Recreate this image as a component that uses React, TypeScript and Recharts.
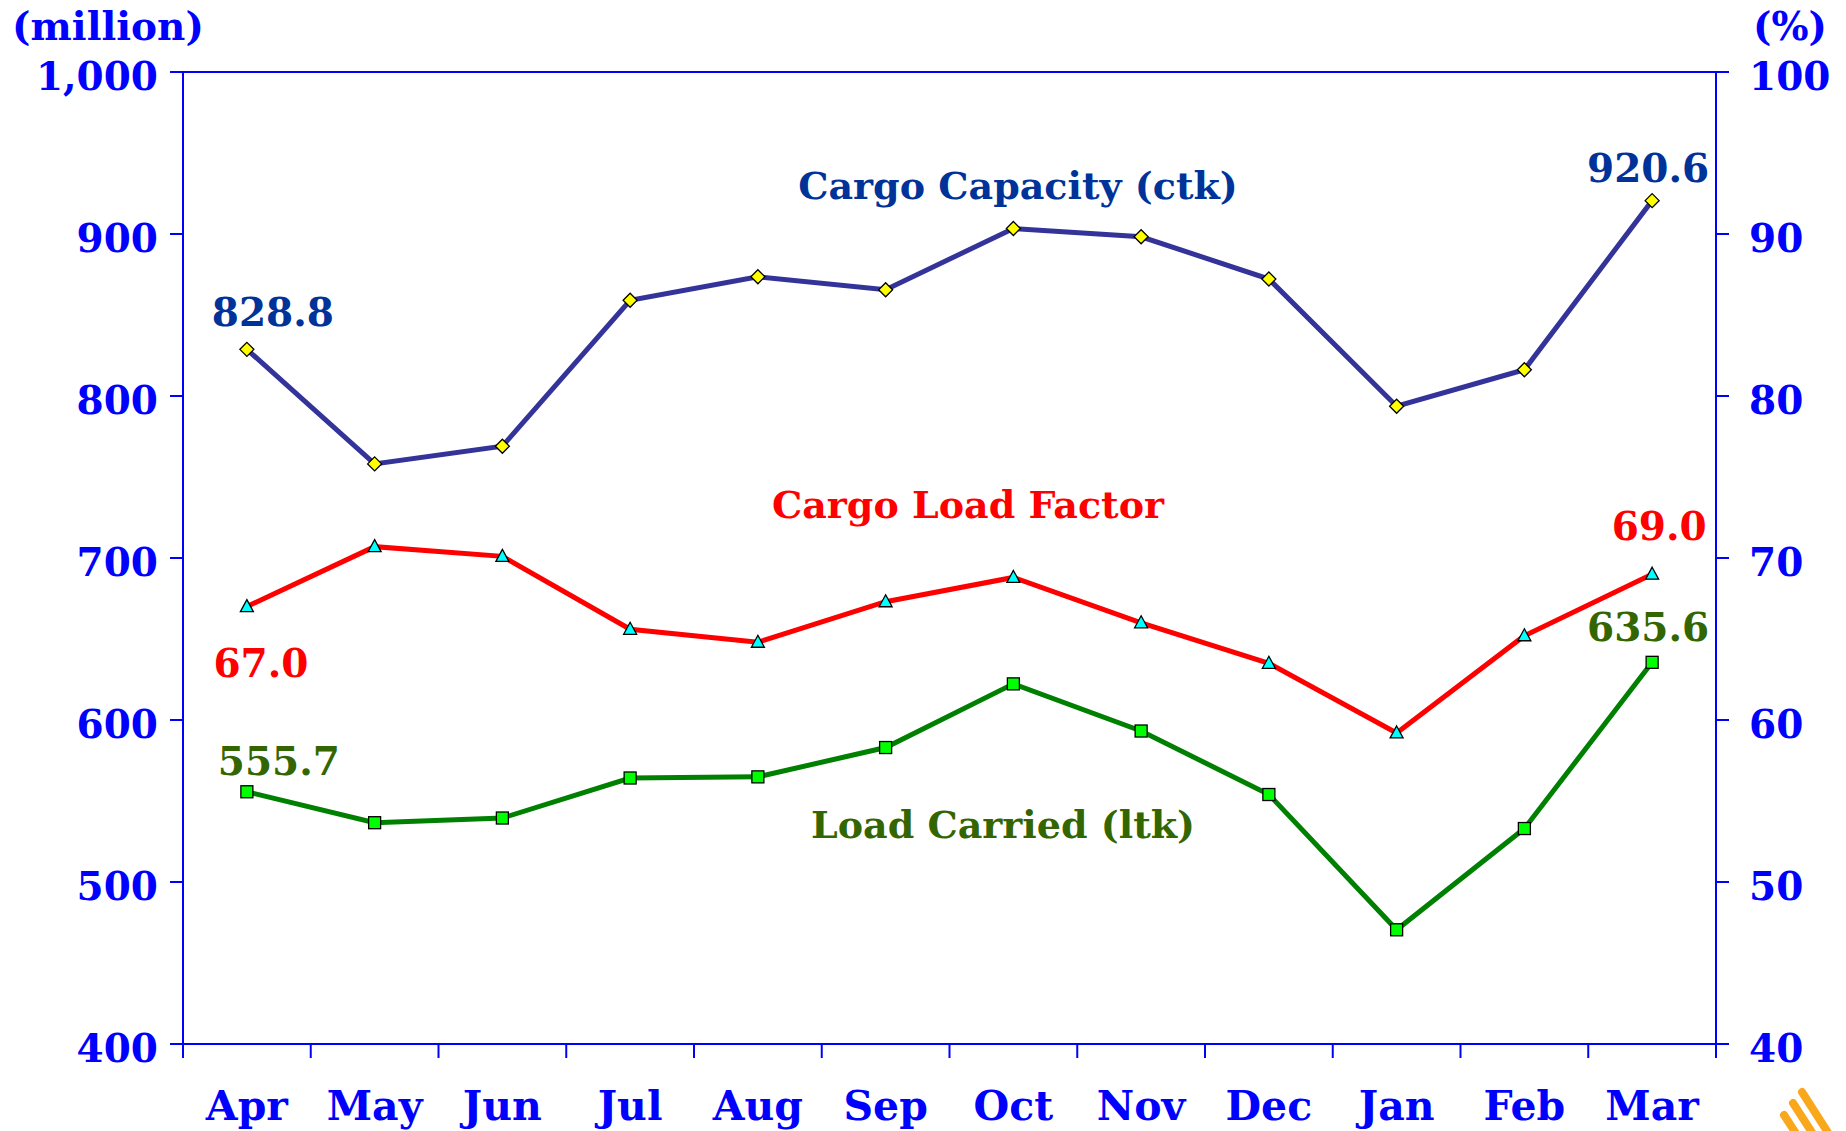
import React from 'react';
import { LineChart, Line, XAxis, YAxis, ReferenceLine } from 'recharts';

const months = ['Apr', 'May', 'Jun', 'Jul', 'Aug', 'Sep', 'Oct', 'Nov', 'Dec', 'Jan', 'Feb', 'Mar'];
const cargoCapacity = [828.8, 758.1, 769.0, 859.1, 873.6, 865.6, 903.4, 898.3, 872.2, 793.7, 816.2, 920.6];
const loadCarried = [555.7, 536.6, 539.5, 564.2, 564.9, 583.0, 622.3, 593.2, 554.0, 470.5, 533.0, 635.6];
const loadFactor = [67.0, 70.7, 70.1, 65.6, 64.8, 67.3, 68.8, 66.0, 63.5, 59.2, 65.2, 69.0];

const leftTicks = [400, 500, 600, 700, 800, 900, 1000];
const rightTicks = [40, 50, 60, 70, 80, 90, 100];

const data = months.map((m, i) => ({
  month: m,
  capacity: cargoCapacity[i],
  carried: loadCarried[i],
  factor: loadFactor[i],
}));

const FONT = '"DejaVu Serif", serif';
const AXIS_BLUE = '#0000FF';
const last = months.length - 1;

// layout
const W = 1846;
const H = 1131;
const MARGIN = { top: 72, right: 20, bottom: 6, left: 33 };
const LEFT_AXIS_W = 150;
const RIGHT_AXIS_W = 110;
const PLOT_W = W - MARGIN.left - MARGIN.right - LEFT_AXIS_W - RIGHT_AXIS_W;
const BAND = PLOT_W / months.length;
const X_LABEL_GAP = 47;

const valueText = (x: number, y: number, text: string, color: string) => (
  <text
    x={x}
    y={y}
    textAnchor="middle"
    dominantBaseline="central"
    fill={color}
    fontFamily={FONT}
    fontWeight="bold"
    fontSize={39}
  >
    {text}
  </text>
);

const DiamondDot = (props: any) => {
  const { cx, cy, index, value } = props;
  const r = 7;
  return (
    <g key={`d-${index}`}>
      <polygon
        points={`${cx},${cy - r} ${cx + r},${cy} ${cx},${cy + r} ${cx - r},${cy}`}
        fill="#FFFF00"
        stroke="#000"
        strokeWidth={1.3}
      />
      {index === 0 && valueText(cx + 26, cy - 37, value.toFixed(1), '#003399')}
      {index === last && valueText(cx - 4, cy - 33, value.toFixed(1), '#003399')}
    </g>
  );
};

const TriangleDot = (props: any) => {
  const { cx, cy, index, value } = props;
  return (
    <g key={`t-${index}`}>
      <polygon
        points={`${cx},${cy - 7} ${cx + 6.5},${cy + 5} ${cx - 6.5},${cy + 5}`}
        fill="#00FFFF"
        stroke="#000"
        strokeWidth={1.3}
      />
      {index === 0 && valueText(cx + 14, cy + 56, value.toFixed(1), '#FF0000')}
      {index === last && valueText(cx + 7, cy - 48, value.toFixed(1), '#FF0000')}
    </g>
  );
};

const SquareDot = (props: any) => {
  const { cx, cy, index, value } = props;
  return (
    <g key={`s-${index}`}>
      <rect x={cx - 6} y={cy - 6} width={12} height={12} fill="#00FF00" stroke="#000" strokeWidth={1.3} />
      {index === 0 && valueText(cx + 32, cy - 31, value.toFixed(1), '#336600')}
      {index === last && valueText(cx - 4, cy - 35, value.toFixed(1), '#336600')}
    </g>
  );
};

// month label plus the tick marks that sit between the months
const MonthTick = (props: any) => {
  const { x, y, payload, index } = props;
  const axisY = y - X_LABEL_GAP;
  const edge = (ex: number) => (
    <line x1={ex} y1={axisY} x2={ex} y2={axisY + 14} stroke={AXIS_BLUE} strokeWidth={2} />
  );
  return (
    <g>
      {edge(x - BAND / 2)}
      {index === last && edge(x + BAND / 2)}
      <text
        x={x}
        y={y}
        dy="0.71em"
        textAnchor="middle"
        fill={AXIS_BLUE}
        fontFamily={FONT}
        fontWeight="bold"
        fontSize={41}
      >
        {payload.value}
      </text>
    </g>
  );
};

const tickStyle = { fill: AXIS_BLUE, fontFamily: FONT, fontWeight: 'bold', fontSize: 39 };

export default function App() {
  return (
    <div style={{ position: 'absolute', left: 0, top: 0, width: W, height: H, background: '#fff' }}>
      <LineChart width={W} height={H} data={data} margin={MARGIN}>
        <XAxis
          dataKey="month"
          height={81}
          padding={{ left: BAND / 2, right: BAND / 2 }}
          axisLine={{ stroke: AXIS_BLUE, strokeWidth: 2 }}
          tickLine={false}
          tickSize={0}
          tickMargin={X_LABEL_GAP}
          interval={0}
          tick={MonthTick}
        />
        <YAxis
          yAxisId="left"
          domain={[400, 1000]}
          ticks={leftTicks}
          width={LEFT_AXIS_W}
          tickSize={13}
          tickMargin={12}
          tickFormatter={(v: number) => v.toLocaleString('en-US')}
          tick={{ ...tickStyle, dy: 4 }}
          axisLine={{ stroke: AXIS_BLUE, strokeWidth: 2 }}
          tickLine={{ stroke: AXIS_BLUE, strokeWidth: 2 }}
        />
        <YAxis
          yAxisId="right"
          orientation="right"
          domain={[40, 100]}
          ticks={rightTicks}
          width={RIGHT_AXIS_W}
          tickSize={13}
          tickMargin={20}
          tick={{ ...tickStyle, dy: 4 }}
          axisLine={{ stroke: AXIS_BLUE, strokeWidth: 2 }}
          tickLine={{ stroke: AXIS_BLUE, strokeWidth: 2 }}
        />
        <ReferenceLine yAxisId="left" y={1000} stroke={AXIS_BLUE} strokeWidth={2} />
        <Line
          yAxisId="left"
          dataKey="capacity"
          stroke="#333399"
          strokeWidth={5}
          dot={DiamondDot}
          activeDot={false}
          isAnimationActive={false}
        />
        <Line
          yAxisId="right"
          dataKey="factor"
          stroke="#FF0000"
          strokeWidth={5}
          dot={TriangleDot}
          activeDot={false}
          isAnimationActive={false}
        />
        <Line
          yAxisId="left"
          dataKey="carried"
          stroke="#008000"
          strokeWidth={5}
          dot={SquareDot}
          activeDot={false}
          isAnimationActive={false}
        />
      </LineChart>
      <svg
        width={W}
        height={H}
        style={{ position: 'absolute', left: 0, top: 0, pointerEvents: 'none' }}
        fontFamily={FONT}
        fontWeight="bold"
      >
        <text x={108} y={26} textAnchor="middle" dominantBaseline="central" fill={AXIS_BLUE} fontSize={39}>
          (million)
        </text>
        <text x={1790} y={26} textAnchor="middle" dominantBaseline="central" fill={AXIS_BLUE} fontSize={39}>
          (%)
        </text>
        <text x={1018} y={185} textAnchor="middle" dominantBaseline="central" fill="#003399" fontSize={38}>
          Cargo Capacity (ctk)
        </text>
        <text x={968} y={504} textAnchor="middle" dominantBaseline="central" fill="#FF0000" fontSize={38}>
          Cargo Load Factor
        </text>
        <text x={1003} y={824} textAnchor="middle" dominantBaseline="central" fill="#336600" fontSize={38}>
          Load Carried (ltk)
        </text>
        <g stroke="#F9A81C" strokeWidth={8} strokeLinecap="round">
          <line x1={1802} y1={1092} x2={1834} y2={1142} />
          <line x1={1793} y1={1103} x2={1822} y2={1148} />
          <line x1={1784} y1={1115} x2={1808} y2={1152} />
        </g>
      </svg>
    </div>
  );
}
